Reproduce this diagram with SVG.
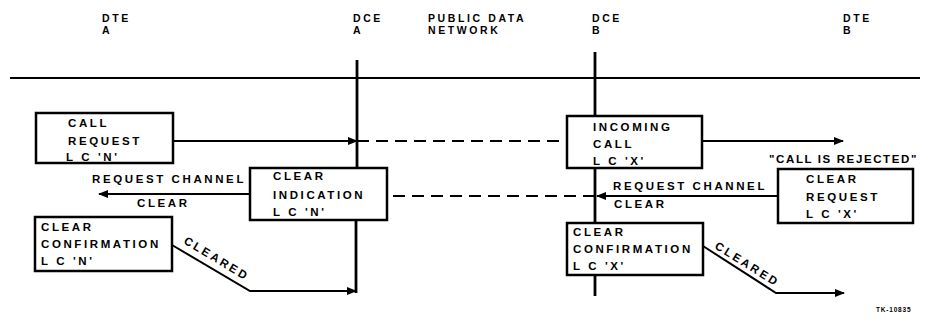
<svg xmlns="http://www.w3.org/2000/svg" width="925" height="325" viewBox="0 0 925 325">
<style>
.t{font-family:"Liberation Sans",Arial,sans-serif;font-weight:bold;font-size:11.5px;letter-spacing:2.6px;fill:#000}
.h{font-family:"Liberation Sans",Arial,sans-serif;font-weight:bold;font-size:10.5px;letter-spacing:2.6px;fill:#000}
.box{fill:#fff;stroke:#000;stroke-width:2.5}
.ln{fill:none;stroke:#000;stroke-width:2}
.ax{fill:none;stroke:#000;stroke-width:2.8}
.dash{fill:none;stroke:#000;stroke-width:2;stroke-dasharray:12 7}
</style>
<defs>
<marker id="ah" viewBox="0 0 10 8" refX="9" refY="4" markerWidth="10" markerHeight="8" markerUnits="userSpaceOnUse" orient="auto">
<path d="M0,0 L10,4 L0,8 Z" fill="#000"/>
</marker>
</defs>
<rect width="925" height="325" fill="#fff"/>
<g id="headers">
<text class="h" x="102" y="22">DTE</text>
<text class="h" x="102" y="34">A</text>
<text class="h" x="353" y="22">DCE</text>
<text class="h" x="353" y="34">A</text>
<text class="h" x="428" y="22">PUBLIC DATA</text>
<text class="h" x="428" y="34">NETWORK</text>
<text class="h" x="592" y="22">DCE</text>
<text class="h" x="592" y="34">B</text>
<text class="h" x="843" y="22">DTE</text>
<text class="h" x="843" y="34">B</text>
</g>
<g id="axes">
<line class="ln" x1="10" y1="78" x2="920" y2="78" stroke-width="2.5"/>
<line class="ax" x1="357" y1="60" x2="357" y2="168"/>
<line class="ax" x1="356" y1="220" x2="356" y2="293"/>
<line class="ax" x1="595" y1="52" x2="595" y2="116"/>
<line class="ax" x1="595" y1="168" x2="595" y2="223"/>
<line class="ax" x1="595" y1="275" x2="595" y2="296"/>
</g>
<g id="connectors">
<line class="ln" x1="173" y1="141" x2="357" y2="141" marker-end="url(#ah)"/>
<line class="dash" x1="357" y1="141" x2="567" y2="141"/>
<line class="ln" x1="702" y1="141" x2="843" y2="141" marker-end="url(#ah)"/>
<line class="ln" x1="250" y1="194" x2="99" y2="194" marker-end="url(#ah)"/>
<line class="ln" x1="778" y1="196" x2="597" y2="196" marker-end="url(#ah)"/>
<line class="dash" x1="595" y1="196" x2="387" y2="196"/>
<polyline class="ln" points="172,245 250,291 356,291" marker-end="url(#ah)"/>
<polyline class="ln" points="703,246 776,293 844,293" marker-end="url(#ah)"/>
<text class="t" x="92" y="183">REQUEST CHANNEL</text>
<text class="t" x="137" y="207">CLEAR</text>
<text class="t" x="613" y="190">REQUEST CHANNEL</text>
<text class="t" x="614" y="208">CLEAR</text>
<text class="t" x="769" y="163" letter-spacing="0" textLength="150" lengthAdjust="spacing">"CALL IS REJECTED"</text>
<text class="t" transform="translate(183,243) rotate(31)">CLEARED</text>
<text class="t" transform="translate(714,248) rotate(32)">CLEARED</text>
</g>
<g id="call-request">
<rect class="box" x="36" y="113" width="137" height="50"/>
<text class="t" x="68" y="127">CALL</text>
<text class="t" x="68" y="145">REQUEST</text>
<text class="t" x="66" y="161">L C 'N'</text>
</g>
<g id="clear-indication">
<rect class="box" x="250" y="168" width="137" height="52"/>
<text class="t" x="273" y="180">CLEAR</text>
<text class="t" x="273" y="199">INDICATION</text>
<text class="t" x="273" y="216">L C 'N'</text>
</g>
<g id="clear-confirmation-a">
<rect class="box" x="35" y="217" width="137" height="54"/>
<text class="t" x="41" y="231">CLEAR</text>
<text class="t" x="41" y="248">CONFIRMATION</text>
<text class="t" x="41" y="265">L C 'N'</text>
</g>
<g id="incoming-call">
<rect class="box" x="567" y="116" width="135" height="52"/>
<text class="t" x="593" y="131">INCOMING</text>
<text class="t" x="593" y="148">CALL</text>
<text class="t" x="593" y="165">L C 'X'</text>
</g>
<g id="clear-request-b">
<rect class="box" x="778" y="169" width="135" height="54"/>
<text class="t" x="806" y="183">CLEAR</text>
<text class="t" x="806" y="201">REQUEST</text>
<text class="t" x="806" y="218">L C 'X'</text>
</g>
<g id="clear-confirmation-b">
<rect class="box" x="567" y="223" width="136" height="52"/>
<text class="t" x="573" y="236">CLEAR</text>
<text class="t" x="573" y="253">CONFIRMATION</text>
<text class="t" x="573" y="270">L C 'X'</text>
</g>
<text x="876" y="312" font-family="Liberation Sans, Arial, sans-serif" font-weight="bold" font-size="6.5" letter-spacing="0.8">TK-10835</text>
</svg>
